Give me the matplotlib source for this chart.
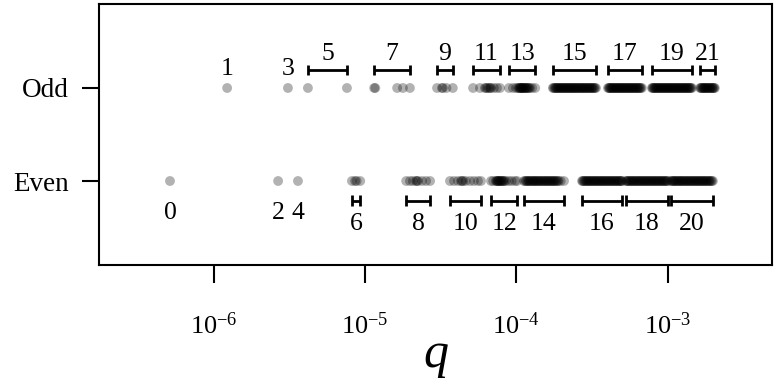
import matplotlib
matplotlib.use("Agg")
import matplotlib.pyplot as plt
import numpy as np
from matplotlib.ticker import FixedLocator, NullLocator

plt.rcParams["font.family"] = ["Liberation Serif", "DejaVu Serif"]
plt.rcParams["mathtext.fontset"] = "custom"
plt.rcParams["mathtext.rm"] = "Liberation Serif"
plt.rcParams["mathtext.it"] = "Liberation Serif:italic"

# q values per group (dense groups given in units of 1e-4)
odd_15 = [1.74, 1.76, 1.79, 1.81, 1.83, 1.86, 1.88, 1.90, 1.93, 1.95, 1.97, 2.00,
          2.02, 2.05, 2.07, 2.10, 2.12, 2.15, 2.18, 2.20, 2.23, 2.26, 2.29, 2.31,
          2.34, 2.37, 2.40, 2.43, 2.46, 2.49, 2.52, 2.55, 2.59, 2.62, 2.65, 2.69,
          2.72, 2.75, 2.79, 2.82, 2.86, 2.90, 2.93, 2.97, 3.01, 3.05, 3.09, 3.13,
          3.17, 3.21, 3.26, 3.30, 3.35]
odd_17 = [4.02, 4.07, 4.12, 4.16, 4.21, 4.26, 4.31, 4.36, 4.41, 4.46, 4.52, 4.57,
          4.62, 4.68, 4.73, 4.79, 4.85, 4.90, 4.96, 5.02, 5.08, 5.14, 5.20, 5.26,
          5.33, 5.39, 5.46, 5.52, 5.59, 5.66, 5.72, 5.79, 5.86, 5.93, 6.01, 6.08,
          6.15, 6.23, 6.30, 6.38, 6.46, 6.54, 6.62, 6.73]
odd_19 = [7.84, 7.93, 8.02, 8.12, 8.21, 8.31, 8.41, 8.51, 8.61, 8.71, 8.82, 8.92,
          9.03, 9.14, 9.25, 9.36, 9.47, 9.58, 9.70, 9.81, 9.93, 10.05, 10.17, 10.29,
          10.41, 10.54, 10.66, 10.79, 10.92, 11.05, 11.18, 11.32, 11.45, 11.59, 11.73,
          11.87, 12.01, 12.16, 12.30, 12.45, 12.60, 12.75, 12.90, 13.06, 13.21, 13.37,
          13.53, 13.70, 13.86, 14.03, 14.20, 14.40]
odd_21 = [16.3, 16.5, 16.7, 16.9, 17.1, 17.3, 17.5, 17.7, 17.9, 18.1, 18.3, 18.5,
          18.8, 19.0, 19.2, 19.5, 19.7, 19.9, 20.2, 20.4]

even_14 = [1.12, 1.14, 1.16, 1.17, 1.19, 1.21, 1.22, 1.24, 1.26, 1.28, 1.30, 1.31,
           1.33, 1.35, 1.37, 1.39, 1.41, 1.43, 1.45, 1.47, 1.50, 1.52, 1.54, 1.56,
           1.59, 1.61, 1.63, 1.66, 1.68, 1.71, 1.73, 1.76, 1.78, 1.81, 1.84, 1.87,
           1.90, 1.96, 2.06]
even_16 = [2.71, 2.74, 2.78, 2.82, 2.86, 2.90, 2.94, 2.98, 3.02, 3.06, 3.10, 3.15,
           3.19, 3.24, 3.28, 3.33, 3.37, 3.42, 3.47, 3.52, 3.57, 3.62, 3.67, 3.72,
           3.77, 3.83, 3.88, 3.94, 3.99, 4.05, 4.11, 4.17, 4.22, 4.28, 4.35, 4.41,
           4.47, 4.54, 4.60, 4.67, 4.73, 4.80, 4.87, 4.94, 4.97]
even_18 = [5.28, 5.35, 5.43, 5.51, 5.59, 5.67, 5.75, 5.83, 5.91, 6.00, 6.08, 6.17,
           6.26, 6.35, 6.44, 6.53, 6.62, 6.72, 6.81, 6.91, 7.01, 7.11, 7.21, 7.31,
           7.42, 7.52, 7.63, 7.74, 7.85, 7.96, 8.08, 8.19, 8.31, 8.43, 8.55, 8.67,
           8.80, 8.92, 9.05, 9.18, 9.31, 9.45, 9.58, 9.72, 9.86, 10.0]
even_20 = [10.46, 10.6, 10.75, 10.9, 11.05, 11.2, 11.35, 11.5, 11.7, 11.85, 12.0,
           12.2, 12.35, 12.5, 12.7, 12.9, 13.1, 13.25, 13.45, 13.65, 13.85, 14.05,
           14.25, 14.45, 14.65, 14.85, 15.1, 15.3, 15.5, 15.75, 15.95, 16.2, 16.4,
           16.65, 16.9, 17.1, 17.35, 17.6, 17.85, 18.1, 18.4, 18.65, 18.9, 19.2,
           19.5, 19.8]

odd_counts = [1, 3, 5, 7, 9, 11, 13, 15, 17, 19, 21]
odd_q = [
    [1.23e-6],
    [3.10e-6],
    [4.20e-6, 7.60e-6],
    [1.15e-5, 1.17e-5, 1.63e-5, 1.78e-5, 1.98e-5],
    [2.99e-5, 3.22e-5, 3.27e-5, 3.45e-5, 3.80e-5],
    [5.17e-5, 5.74e-5, 6.19e-5, 6.30e-5, 6.42e-5, 6.58e-5, 6.70e-5, 6.78e-5,
     7.10e-5, 7.43e-5, 7.78e-5],
    [8.92e-5, 9.48e-5, 9.92e-5, 1.02e-4, 1.04e-4, 1.05e-4, 1.06e-4, 1.07e-4,
     1.08e-4, 1.09e-4, 1.10e-4, 1.11e-4, 1.12e-4, 1.14e-4, 1.15e-4, 1.16e-4,
     1.18e-4, 1.19e-4, 1.21e-4, 1.23e-4, 1.27e-4, 1.33e-4],
    np.array(odd_15) * 1e-4,
    np.array(odd_17) * 1e-4,
    np.array(odd_19) * 1e-4,
    np.array(odd_21) * 1e-4,
]

even_counts = [0, 2, 4, 6, 8, 10, 12, 14, 16, 18, 20]
even_q = [
    [5.16e-7],
    [2.67e-6],
    [3.61e-6],
    [8.2e-6, 8.6e-6, 8.8e-6, 9.3e-6],
    [1.87e-5, 1.98e-5, 2.07e-5, 2.17e-5, 2.20e-5, 2.24e-5, 2.38e-5, 2.53e-5, 2.69e-5],
    [3.64e-5, 3.87e-5, 4.11e-5, 4.31e-5, 4.37e-5, 4.45e-5, 4.63e-5, 4.94e-5,
     5.24e-5, 5.57e-5, 5.83e-5],
    [6.79e-5, 7.02e-5, 7.31e-5, 7.40e-5, 7.48e-5, 7.55e-5, 7.62e-5, 7.71e-5,
     7.80e-5, 7.90e-5, 8.01e-5, 8.10e-5, 8.19e-5, 8.33e-5, 8.52e-5, 8.91e-5,
     9.30e-5, 9.78e-5, 1.01e-4],
    np.array(even_14) * 1e-4,
    np.array(even_16) * 1e-4,
    np.array(even_18) * 1e-4,
    np.array(even_20) * 1e-4,
]

row_labels = ["Even", "Odd"]
decade_ticks = [1e-6, 1e-5, 1e-4, 1e-3]
decade_labels = ["10$^{-6}$", "10$^{-5}$", "10$^{-4}$", "10$^{-3}$"]

fig = plt.figure(figsize=(7.74, 3.92), dpi=100)
ax = fig.add_axes([99 / 774, 1 - 265 / 392, 673 / 774, 261 / 392])


def draw_row(counts, groups, y, bar_off, label_off, single_off):
    for n, qs in zip(counts, groups):
        qs = np.array(qs)
        ax.scatter(qs, np.full(len(qs), y), s=50, color="black", alpha=0.3,
                   edgecolors="none", zorder=3)
        if len(qs) > 1:
            lo, hi = qs.min(), qs.max()
            yb = y + bar_off
            ax.plot([lo, hi], [yb, yb], color="black", lw=2, solid_capstyle="butt")
            ax.plot([lo, lo], [yb - 0.055, yb + 0.055], color="black", lw=2, solid_capstyle="butt")
            ax.plot([hi, hi], [yb - 0.055, yb + 0.055], color="black", lw=2, solid_capstyle="butt")
            ax.text(np.sqrt(lo * hi), y + label_off, str(n), ha="center",
                    va="baseline", fontsize=18.5)
        else:
            ax.text(qs[0], y + single_off, str(n), ha="center", va="baseline",
                    fontsize=18.5)


draw_row(odd_counts, odd_q, 2, 0.19, 0.30, 0.14)
draw_row(even_counts, even_q, 1, -0.21, -0.53, -0.41)

ax.set_xscale("log")
ax.set_xlim(10 ** -6.756, 10 ** -2.313)
ax.set_ylim(0.097, 2.903)

ax.xaxis.set_major_locator(FixedLocator(decade_ticks))
ax.xaxis.set_minor_locator(NullLocator())
ax.set_xticklabels(decade_labels)
ax.set_yticks([1, 2])
ax.set_yticklabels(row_labels)

ax.tick_params(axis="x", direction="out", length=13, width=1.5, pad=21, labelsize=19)
ax.tick_params(axis="y", direction="out", length=12, width=1.5, pad=10, labelsize=19.5)
for s in ax.spines.values():
    s.set_linewidth(1.5)

ax.set_xlabel("$q$", fontsize=36, labelpad=-4)

fig.savefig("out.png", dpi=100)
